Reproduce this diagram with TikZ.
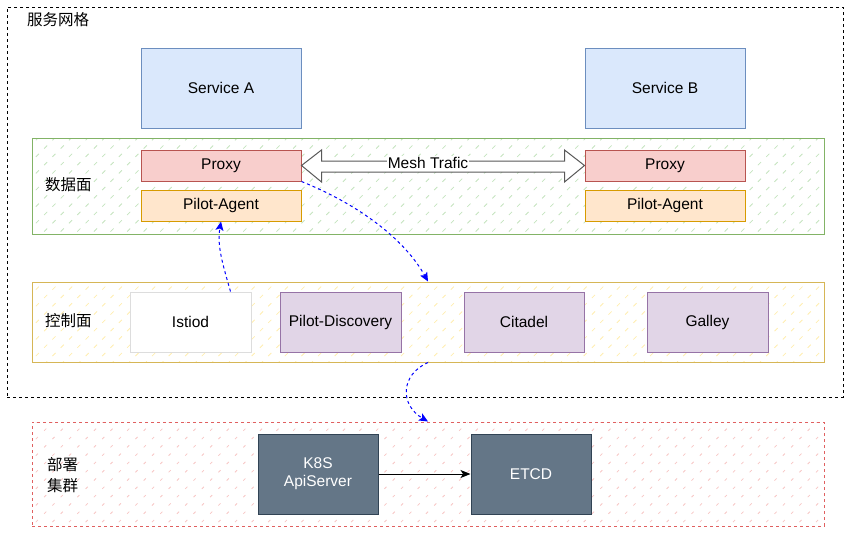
\documentclass[tikz,border=0pt]{standalone}
\usepackage{fontspec}
\setmainfont{Liberation Sans}
\newfontfamily\cjk{Noto Sans CJK SC}
\usetikzlibrary{arrows.meta,calc,patterns}
\definecolor{svcfill}{HTML}{DAE8FC}\definecolor{svcline}{HTML}{6C8EBF}
\definecolor{pxfill}{HTML}{F8CECC}\definecolor{pxline}{HTML}{B85450}
\definecolor{pafill}{HTML}{FFE6CC}\definecolor{paline}{HTML}{D79B00}
\definecolor{dpline}{HTML}{82B366}\definecolor{cpline}{HTML}{D6B656}
\definecolor{deline}{HTML}{E06060}
\definecolor{pufill}{HTML}{E1D5E7}\definecolor{puline}{HTML}{9673A6}
\definecolor{k8fill}{HTML}{647687}\definecolor{k8line}{HTML}{314354}
\definecolor{isline}{HTML}{DDDDDD}
\definecolor{hgreen}{HTML}{C4E3BE}\definecolor{hyellow}{HTML}{FFEDB0}\definecolor{hpink}{HTML}{F7C6C4}
\pgfdeclarepatternformonly{dhatch}{\pgfpoint{-1pt}{-1pt}}{\pgfpoint{17pt}{17pt}}{\pgfpoint{16.6pt}{16.6pt}}{%
  \pgfsetlinewidth{0.8pt}%
  \pgfpathmoveto{\pgfpoint{2.6pt}{10.9pt}}\pgfpathlineto{\pgfpoint{5.7pt}{14pt}}%
  \pgfpathmoveto{\pgfpoint{10.9pt}{2.6pt}}\pgfpathlineto{\pgfpoint{14pt}{5.7pt}}%
  \pgfusepath{stroke}}
\begin{document}
\begin{tikzpicture}[x=1pt,y=-1pt,
  every node/.style={font=\fontsize{15.5}{18}\selectfont, inner sep=0pt},
  box/.style={draw, line width=1pt, minimum width=160pt, minimum height=80pt},
  svc/.style={box, fill=svcfill, draw=svcline},
  prx/.style={box, minimum height=31pt, fill=pxfill, draw=pxline},
  pag/.style={box, minimum height=31pt, fill=pafill, draw=paline},
  cbox/.style={box, minimum width=121pt, minimum height=60pt},
  comp/.style={cbox, fill=pufill, draw=puline},
  k8/.style={box, minimum width=120pt, fill=k8fill, draw=k8line, text=white, align=center},
  plane/.style={draw, line width=1pt, minimum width=792pt},
  lbl/.style={anchor=west, font=\fontsize{15.5}{21}\selectfont\cjk, align=left},
  flow/.style={draw=blue, line width=1pt, dash pattern=on 3pt off 3pt, -{Stealth[length=9pt,width=8pt,inset=2pt,fill=blue]}},
  flexarrow/.style={draw=black!65, line width=1pt, fill=white, line join=miter}
]
\useasboundingbox (0,0) rectangle (850,533);
% outer
\node[draw, line width=1pt, dash pattern=on 3pt off 3pt, minimum width=836pt, minimum height=390pt] (mesh) at (425,202) {};
\node[lbl] (meshlbl) at (27,20) {服务网格};
% planes
\node[plane, draw=dpline, pattern=dhatch, pattern color=hgreen, minimum height=96pt] (dp) at (428,186) {};
\node[plane, draw=cpline, pattern=dhatch, pattern color=hyellow, minimum height=80pt] (cp) at (428,322) {};
\node[plane, draw=deline, dash pattern=on 3pt off 3pt, pattern=dhatch, pattern color=hpink, minimum height=104pt] (dep) at (428,474) {};
\node[lbl] (dplbl) at (45,185) {数据面};
\node[lbl] (cplbl) at (45,321) {控制面};
\node[lbl] (deplbl) at (47,475) {部署\\集群};
% services
\node[svc] (sa) at (221,88) {Service A};
\node[svc] (sb) at (665,88) {Service B};
\node[prx] (pa) at (221,165.5) {Proxy};
\node[pag] (ga) at (221,205.5) {Pilot-Agent};
\node[prx] (pb) at (665,165.5) {Proxy};
\node[pag] (gb) at (665,205.5) {Pilot-Agent};
% control plane components
\node[cbox, draw=isline, fill=white] (istiod) at (190.5,322) {Istiod};
\node[comp] (pd) at (340.5,322) {Pilot-Discovery};
\node[comp, minimum width=120pt] (cit) at (524,322) {Citadel};
\node[comp] (gal) at (707.5,322) {Galley};
% deployment
\node[k8] (k8s) at (318,474) {K8S\\ApiServer};
\node[k8] (etcd) at (531,474) {ETCD};
% mesh traffic double arrow
\draw[flexarrow] (pa.east) -- ++(20,-15.5) -- ++(0,11) -- ($(pb.west)+(-20,-4.5)$) -- ++(0,-11) -- (pb.west) -- ++(-20,16.5) -- ++(0,-10) -- ($(pa.east)+(20,6.5)$) -- ++(0,10) -- cycle;
\node[fill=white, inner sep=1pt] (mt) at (428,163) {Mesh Trafic};
% flows
\coordinate (istop) at ($(istiod.north)+(40,0)$);
\coordinate (cptop) at ($(cp.north)+(0,0)$);
\coordinate (cpbot) at ($(cp.south)+(0,0)$);
\coordinate (deptop) at ($(dep.north)+(0,0)$);
\draw[flow] (istop) .. controls (222,262) and (217,245) .. (ga.south);
\draw[flow] (pa.south east) .. controls (360,205) and (405,240) .. (cptop);
\draw[flow] (cpbot) .. controls (400,375) and (400,405) .. (deptop);
\draw[line width=1pt, -{Stealth[length=10pt,width=8pt,inset=2.5pt]}] (k8s) -- (etcd);
\end{tikzpicture}
\end{document}
